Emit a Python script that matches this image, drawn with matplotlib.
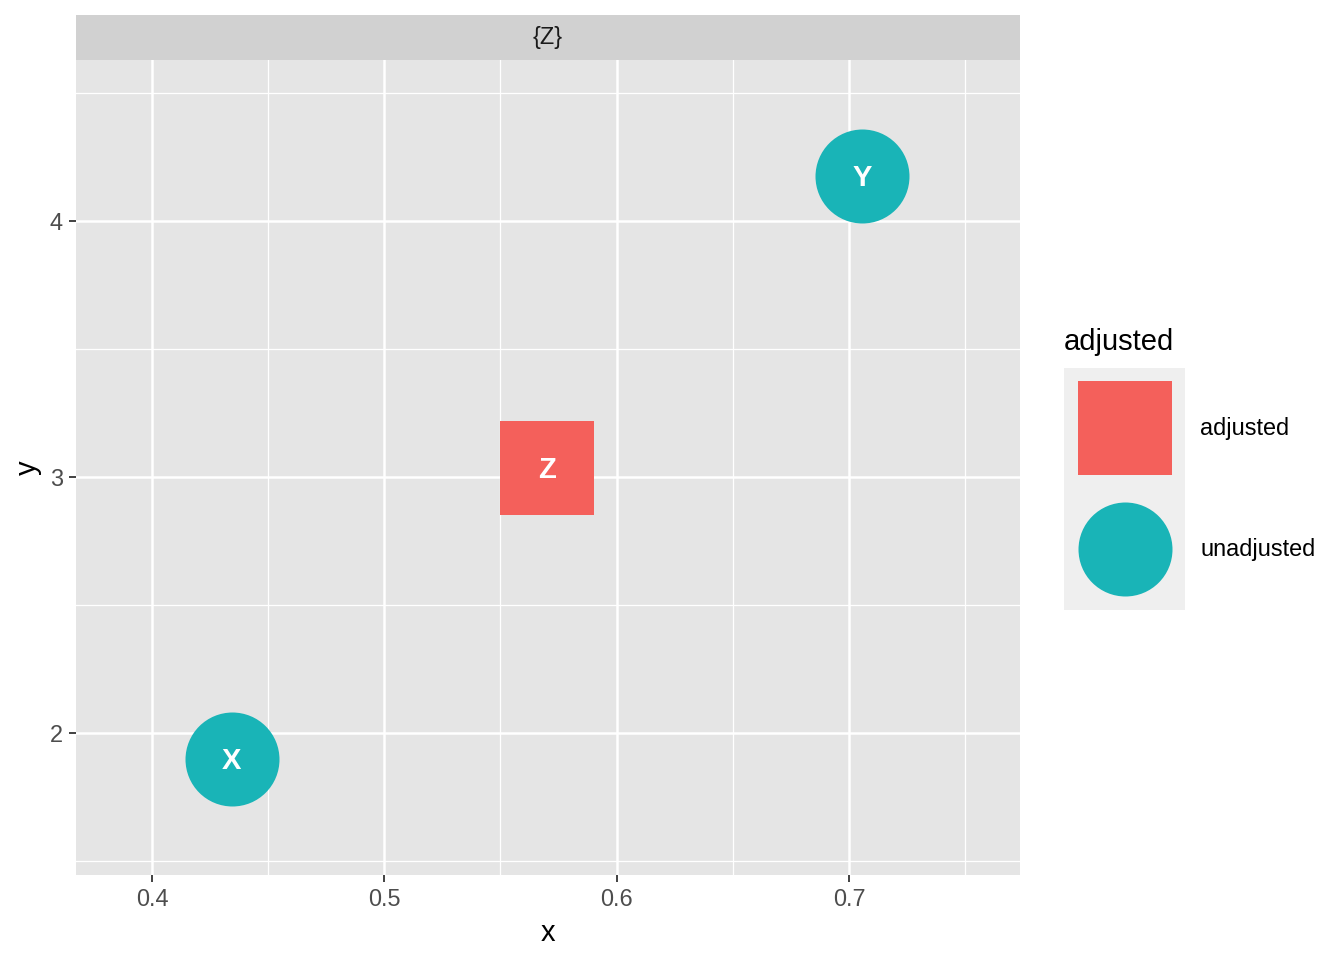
import matplotlib
matplotlib.use("Agg")
import matplotlib.pyplot as plt

plt.rcParams['font.family'] = ['Liberation Sans', 'DejaVu Sans']

# node data
names = ["X", "Y", "Z"]
xs = [0.4344, 0.7056, 0.5700]
ys = [1.898, 4.176, 3.035]
status = ["unadjusted", "unadjusted", "adjusted"]

levels = ["adjusted", "unadjusted"]
colors = {"adjusted": "#F4605B", "unadjusted": "#19B4B7"}
shapes = {"adjusted": "s", "unadjusted": "o"}
sizes = {"adjusted": 4484, "unadjusted": 4580}

x_major = [0.4, 0.5, 0.6, 0.7]
x_minor = [0.45, 0.55, 0.65, 0.75]
y_major = [2, 3, 4]
y_minor = [1.5, 2.5, 3.5, 4.5]

W, H = 1344, 960
fig = plt.figure(figsize=(W / 100, H / 100), dpi=100)

def box(x0, y0, x1, y1):
    return [x0 / W, 1 - y1 / H, (x1 - x0) / W, (y1 - y0) / H]

ax = fig.add_axes(box(76, 60, 1020, 875))
ax.set_facecolor("#E5E5E5")
for s in ax.spines.values():
    s.set_visible(False)
ax.set_xlim(0.3673, 0.7736)
ax.set_ylim(1.445, 4.629)

for v in x_minor:
    ax.axvline(v, color="white", lw=0.9, zorder=0.5)
for v in y_minor:
    ax.axhline(v, color="white", lw=0.9, zorder=0.5)
for v in x_major:
    ax.axvline(v, color="white", lw=1.8, zorder=0.6)
for v in y_major:
    ax.axhline(v, color="white", lw=1.8, zorder=0.6)

ax.set_xticks(x_major)
ax.set_xticklabels([str(v) for v in x_major])
ax.set_yticks(y_major)
ax.set_yticklabels([str(v) for v in y_major])
ax.tick_params(length=5.3, width=1.3, color="#333333", labelcolor="#4D4D4D",
               labelsize=16.9, pad=4)

for lev in levels:
    idx = [i for i, s in enumerate(status) if s == lev]
    ax.scatter([xs[i] for i in idx], [ys[i] for i in idx], s=sizes[lev],
               marker=shapes[lev], color=colors[lev], linewidths=0, zorder=3)
for n, x, y in zip(names, xs, ys):
    ax.annotate(n, (x, y), xytext=(0, -1.5), textcoords="offset points",
                color="white", fontsize=21, fontweight="bold",
                ha="center", va="center", zorder=4)

ax.set_xlabel("x", fontsize=21, labelpad=6)
ax.set_ylabel("y", fontsize=21, labelpad=6)

# facet strip
strip = fig.add_axes(box(76, 15, 1020, 60))
strip.set_facecolor("#D1D1D1")
strip.set_xticks([])
strip.set_yticks([])
for s in strip.spines.values():
    s.set_visible(False)
strip.text(0.5, 0.5, "{Z}", ha="center", va="center", fontsize=16.9, color="#1A1A1A")

# legend
lg = fig.add_axes(box(1064, 368, 1185, 610))
lg.set_facecolor("#EFEFEF")
lg.set_xlim(0, 1)
lg.set_ylim(0, 1)
lg.set_xticks([])
lg.set_yticks([])
for s in lg.spines.values():
    s.set_visible(False)
key_y = [0.752, 0.252]
for lev, ky in zip(levels, key_y):
    lg.scatter([0.5], [ky], s=sizes[lev], marker=shapes[lev],
               color=colors[lev], linewidths=0, clip_on=False)
    fig.text(1200 / W, 1 - (368 + (1 - ky) * 242) / H, lev, fontsize=16.9,
             ha="left", va="center")
fig.text(1064 / W, 1 - 342 / H, "adjusted", fontsize=21, ha="left", va="center")

fig.savefig("out.png", dpi=100)
